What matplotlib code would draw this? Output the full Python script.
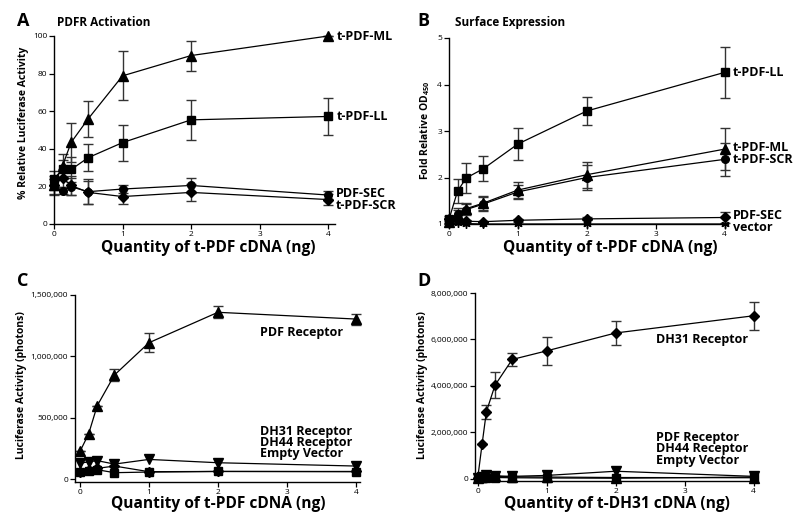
import matplotlib
matplotlib.use("Agg")
import matplotlib.pyplot as plt
from matplotlib.ticker import FuncFormatter

plt.rcParams['font.family'] = ['Open Sans', 'DejaVu Sans']

# ---------------- data ----------------
A_x = [0, 0.125, 0.25, 0.5, 1, 2, 4]
A_ML = [21, 31, 43.4, 56, 78.8, 89.6, 100]
A_ML_err = [3, 6, 10.5, 9.5, 13, 8, 0]
A_LL = [24, 29.2, 29, 35.3, 43.3, 55.4, 57.2]
A_LL_err = [4, 5, 6.5, 7, 9.6, 10.8, 9.7]
A_SEC = [20, 17.8, 19.8, 17.2, 18.6, 20.5, 15.4]
A_SEC_err = [4, 2, 4.5, 6.5, 2.3, 4, 2.2]
A_SCR = [20.5, 24.5, 20.5, 16.8, 14.6, 16.8, 13]
A_SCR_err = [5, 5, 5, 6, 3.8, 4.5, 3]

B_x = [0, 0.125, 0.25, 0.5, 1, 2, 4]
B_LL = [1.1, 1.71, 1.99, 2.19, 2.72, 3.43, 4.26]
B_LL_err = [0.08, 0.25, 0.32, 0.27, 0.34, 0.3, 0.55]
B_ML = [1.05, 1.2, 1.33, 1.45, 1.73, 2.06, 2.61]
B_ML_err = [0.05, 0.1, 0.12, 0.15, 0.17, 0.28, 0.45]
B_SCR = [1.08, 1.22, 1.31, 1.43, 1.69, 2.0, 2.39]
B_SCR_err = [0.05, 0.12, 0.12, 0.14, 0.15, 0.27, 0.35]
B_SEC = [1.1, 1.08, 1.06, 1.05, 1.08, 1.11, 1.14]
B_SEC_err = [0.03, 0.03, 0.03, 0.02, 0.03, 0.03, 0.12]
B_VEC = [1.0, 1.02, 1.01, 1.0, 1.0, 1.0, 1.0]

C_x = [0, 0.125, 0.25, 0.5, 1, 2, 4]
C_PDF = [225000, 367000, 598000, 848000, 1111000, 1359000, 1304000]
C_PDF_err = [0, 0, 0, 50000, 78000, 50000, 45000]
C_DH31 = [60000, 73000, 87000, 106000, 60000, 62000, 62000]
C_DH44 = [128000, 141000, 150000, 122000, 160000, 133000, 106000]
C_EV = [60000, 65000, 76000, 52000, 57000, 62000, 60000]

D_x = [0, 0.0625, 0.125, 0.25, 0.5, 1, 2, 4]
D_DH31 = [50000, 1490000, 2890000, 4030000, 5140000, 5510000, 6280000, 7020000]
D_DH31_err = [0, 0, 300000, 550000, 280000, 600000, 530000, 600000]
D_PDF = [50000, 80000, 120000, 110000, 90000, 80000, 60000, 50000]
D_DH44 = [60000, 90000, 150000, 130000, 110000, 150000, 330000, 110000]
D_EV = [40000, 50000, 60000, 60000, 50000, 40000, 30000, 80000]

x_ticks = [0, 1, 2, 3, 4]
A_yticks = [0, 20, 40, 60, 80, 100]
B_yticks = [1, 2, 3, 4, 5]
C_yticks = [0, 500000, 1000000, 1500000]
D_yticks = [0, 2000000, 4000000, 6000000, 8000000]

W, H = 800, 520
fig = plt.figure(figsize=(8, 5.2), dpi=100)


def add_ax(l, r, t, b):
    return fig.add_axes([l / W, 1 - b / H, (r - l) / W, (b - t) / H])


def style(ax):
    for s in ['top', 'right']:
        ax.spines[s].set_visible(False)
    for s in ['left', 'bottom']:
        ax.spines[s].set_linewidth(1.0)
    ax.tick_params(direction='out', length=3.5, width=0.9, labelsize=6, pad=1.5)
    ax.set_xticks(x_ticks)


def series(ax, x, y, err, marker, ms=6):
    if err is not None:
        ax.errorbar(x, y, yerr=err, fmt='none', ecolor='#333333', elinewidth=1.0,
                    capsize=3.6, capthick=1.0, clip_on=False, zorder=2)
    ax.plot(x, y, color='black', lw=0.9, marker=marker, ms=ms, mfc='black',
            mec='black', clip_on=False, zorder=3)


def labels(ax, xl, xlab_px, ylab, ylab_px):
    ax.set_xlabel(xl, fontsize=11.2, fontweight='bold')
    ax.xaxis.set_label_coords(xlab_px[0] / W, 1 - xlab_px[1] / H, transform=fig.transFigure)
    ax.xaxis.label.set_verticalalignment('center')
    ax.set_ylabel(ylab, fontsize=7.5, fontweight='bold')
    ax.yaxis.set_label_coords(ylab_px[0] / W, 1 - ylab_px[1] / H, transform=fig.transFigure)
    ax.yaxis.label.set_verticalalignment('center')


lab_kw = dict(fontsize=9, fontweight='bold', va='center', ha='left', clip_on=False)
multi_kw = dict(lab_kw, linespacing=0.82)

# ---------------- Panel A ----------------
axA = add_ax(54, 335, 36, 224)
style(axA)
axA.set_xlim(0, 4.1)
axA.set_ylim(0, 100)
axA.set_yticks(A_yticks)
series(axA, A_x, A_SEC, A_SEC_err, 'o', 5.5)
series(axA, A_x, A_SCR, A_SCR_err, 'D', 4.8)
series(axA, A_x, A_LL, A_LL_err, 's', 6)
series(axA, A_x, A_ML, A_ML_err, '^', 6.5)
labels(axA, 'Quantity of t-PDF cDNA (ng)', (208, 248), '% Relative Luciferase Activity', (24, 123))
axA.text(4.13, 100, 't-PDF-ML', **lab_kw)
axA.text(4.13, 57.4, 't-PDF-LL', **lab_kw)
axA.text(4.11, 13.2, 'PDF-SEC\nt-PDF-SCR', **dict(lab_kw, linespacing=0.9))
fig.text(17 / W, 1 - 12 / H, 'A', fontsize=13, fontweight='bold', va='top')
fig.text(57 / W, 1 - 16 / H, 'PDFR Activation', fontsize=8.5, fontweight='bold', va='top')

# ---------------- Panel B ----------------
axB = add_ax(449, 728, 38, 224)
style(axB)
axB.set_xlim(0, 4.05)
axB.set_ylim(1, 5)
axB.set_yticks(B_yticks)
series(axB, B_x, B_VEC, None, (6, 2, 0), 6)
series(axB, B_x, B_SEC, B_SEC_err, 'D', 4.8)
series(axB, B_x, B_SCR, B_SCR_err, 'o', 5.5)
series(axB, B_x, B_ML, B_ML_err, '^', 6.5)
series(axB, B_x, B_LL, B_LL_err, 's', 6)
labels(axB, 'Quantity of t-PDF cDNA (ng)', (610, 248),
       'Fold Relative OD$_{\\mathregular{450}}$', (425, 130))
axB.text(4.12, 4.25, 't-PDF-LL', **lab_kw)
axB.text(4.12, 2.52, 't-PDF-ML\nt-PDF-SCR', **dict(lab_kw, linespacing=0.9))
axB.text(4.12, 1.055, 'PDF-SEC\nvector', **multi_kw)
fig.text(417 / W, 1 - 12 / H, 'B', fontsize=13, fontweight='bold', va='top')
fig.text(455 / W, 1 - 16 / H, 'Surface Expression', fontsize=8.5, fontweight='bold', va='top')

big = FuncFormatter(lambda v, p: '{:,.0f}'.format(v))

# ---------------- Panel C ----------------
axC = add_ax(75, 360, 295, 482)
style(axC)
axC.set_xlim(-0.072, 4.06)
axC.set_ylim(-24000, 1500000)
axC.set_yticks(C_yticks)
axC.yaxis.set_major_formatter(big)
series(axC, C_x, C_EV, None, 's', 6)
series(axC, C_x, C_DH31, None, 'D', 4.8)
series(axC, C_x, C_DH44, None, 'v', 6.5)
series(axC, C_x, C_PDF, C_PDF_err, '^', 6.5)
labels(axC, 'Quantity of t-PDF cDNA (ng)', (218, 504), 'Luciferase Activity (photons)', (22, 385))
axC.text(2.61, 1198000, 'PDF Receptor', **lab_kw)
axC.text(2.61, 300000, 'DH31 Receptor\nDH44 Receptor\nEmpty Vector', **multi_kw)
fig.text(17 / W, 1 - 272 / H, 'C', fontsize=13, fontweight='bold', va='top')

# ---------------- Panel D ----------------
axD = add_ax(475, 757, 293, 481)
style(axD)
axD.set_xlim(-0.04, 4.05)
axD.set_ylim(-90000, 8000000)
axD.set_yticks(D_yticks)
axD.yaxis.set_major_formatter(big)
series(axD, D_x, D_EV, None, 's', 6)
series(axD, D_x, D_PDF, None, '^', 6.5)
series(axD, D_x, D_DH44, None, 'v', 6.5)
series(axD, D_x, D_DH31, D_DH31_err, 'D', 4.8)
labels(axD, 'Quantity of t-DH31 cDNA (ng)', (617, 504), 'Luciferase Activity (photons)', (422, 385))
axD.text(2.59, 6020000, 'DH31 Receptor', **lab_kw)
axD.text(2.59, 1290000, 'PDF Receptor\nDH44 Receptor\nEmpty Vector', **multi_kw)
fig.text(417 / W, 1 - 272 / H, 'D', fontsize=13, fontweight='bold', va='top')

fig.savefig('out.png', dpi=100)
